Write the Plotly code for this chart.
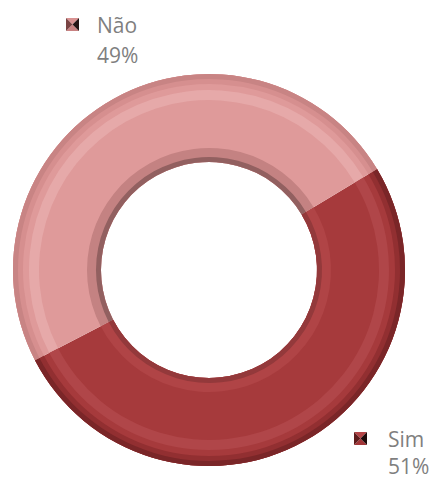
import plotly.graph_objects as go

# Survey answers and their shares (percent)
labels = ["Sim", "Não"]
values = [51, 49]

# Face colours and their shaded / highlighted variants per answer
face_colors = ["#A63A3C", "#DF9A9A"]
rim_dark = ["#7A2628", "#C88484"]
rim_soft = ["#922F31", "#D68F8F"]
rim_light = ["#B04649", "#E6A9A9"]
inner_band = ["#B04446", "#C48282"]
inner_edge = ["#93393B", "#926060"]

W, H = 430, 479
CX, CY = 209, 270          # ring centre in pixels (from top-left)
R_OUT, R_IN = 196, 108     # outer and inner radius in pixels

fig = go.Figure()


def ring(r_in, r_out, colors):
    """Add one concentric donut band between r_in and r_out (pixels)."""
    cyb = H - CY
    fig.add_trace(go.Pie(
        labels=labels,
        values=values,
        sort=False,
        direction="clockwise",
        rotation=59,
        hole=r_in / r_out,
        marker=dict(colors=colors, line=dict(width=0)),
        textinfo="none",
        hoverinfo="label+percent",
        showlegend=False,
        domain=dict(x=[(CX - r_out) / W, (CX + r_out) / W],
                    y=[(cyb - r_out) / H, (cyb + r_out) / H]),
    ))


# base ring, then soft bevel bands layered on top
ring(R_IN, R_OUT, face_colors)
ring(R_OUT - 10, R_OUT, rim_soft)
ring(R_OUT - 5, R_OUT, rim_dark)
ring(R_OUT - 26, R_OUT - 16, rim_light)
ring(R_IN, R_IN + 14, inner_band)
ring(R_IN, R_IN + 5, inner_edge)

# outside labels: small pyramid marker + name + percentage
label_pos = {
    "Não": dict(mx=66, my=18, tx=95, ty1=25, ty2=55,
                cols=("#D99292", "#C98282", "#7A4444", "#241414")),
    "Sim": dict(mx=354, my=432, tx=386, ty1=439, ty2=466,
                cols=("#B44446", "#A23638", "#5E1C1C", "#1E0A0A")),
}
shapes = []
annotations = []
S = 13
for lab, val in zip(labels, values):
    p = label_pos[lab]
    x0, y0 = p["mx"], p["my"]
    x1, y1 = x0 + S, y0 + S
    xc, yc = (x0 + x1) / 2, (y0 + y1) / 2

    def pt(x, y):
        return f"{x / W:.5f},{1 - y / H:.5f}"

    tris = [
        [(x0, y0), (x1, y0), (xc, yc)],   # top
        [(x0, y1), (x1, y1), (xc, yc)],   # bottom
        [(x0, y0), (x0, y1), (xc, yc)],   # left
        [(x1, y0), (x1, y1), (xc, yc)],   # right
    ]
    for tri, col in zip(tris, p["cols"]):
        path = "M " + " L ".join(pt(*q) for q in tri) + " Z"
        shapes.append(dict(type="path", path=path, xref="paper", yref="paper",
                           fillcolor=col, line=dict(width=0)))
    for txt, ty in ((lab, p["ty1"]), (f"{val}%", p["ty2"])):
        annotations.append(dict(
            text=txt, x=p["tx"] / W, y=1 - ty / H, xref="paper", yref="paper",
            xanchor="left", yanchor="middle", showarrow=False,
            font=dict(family="Open Sans", size=21, color="#7F7F7F"),
        ))

fig.update_layout(
    width=W, height=H,
    margin=dict(l=0, r=0, t=0, b=0),
    paper_bgcolor="white",
    plot_bgcolor="white",
    shapes=shapes,
    annotations=annotations,
)

fig.write_html("out.html")
